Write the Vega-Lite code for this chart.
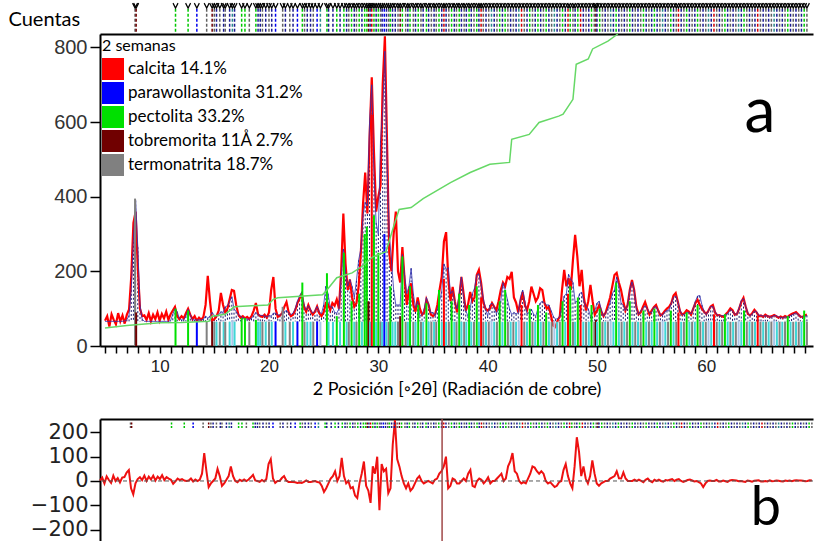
{
"$schema": "https://vega.github.io/schema/vega-lite/v6.json",
"padding": {"left": 8, "top": 0, "right": 0, "bottom": 0},
"background": "white",
"spacing": 18,
"config": {"view": {"stroke": null}, "axis": {"domainColor": "#000", "tickColor": "#000", "grid": false, "domainWidth": 2, "tickWidth": 1.5}},
"resolve": {"scale": {"color": "independent", "stroke": "independent"}},
"datasets": {
"prof": [
{"x":5.0,"o":68,"c":66,"d":2},{"x":5.2,"o":80,"c":66,"d":14},{"x":5.4,"o":52,"c":66,"d":-10},{"x":5.6,"o":85,"c":66,"d":19},{"x":5.8,"o":70,"c":66,"d":4},{"x":6.0,"o":58,"c":66,"d":-8},{"x":6.2,"o":88,"c":66,"d":22},{"x":6.4,"o":66,"c":66,"d":0},{"x":6.6,"o":82,"c":66,"d":12},{"x":6.8,"o":60,"c":67,"d":-6},
{"x":7.0,"o":84,"c":70,"d":14},{"x":7.2,"o":98,"c":82,"d":16},{"x":7.4,"o":185,"c":150,"d":35},{"x":7.6,"o":330,"c":290,"d":45},{"x":7.8,"o":360,"c":390,"d":-30},{"x":8.0,"o":210,"c":265,"d":-55},{"x":8.2,"o":100,"c":110,"d":-10},{"x":8.4,"o":80,"c":72,"d":8},{"x":8.6,"o":82,"c":66,"d":16},{"x":8.8,"o":70,"c":66,"d":4},
{"x":9.0,"o":88,"c":66,"d":22},{"x":9.2,"o":66,"c":66,"d":0},{"x":9.4,"o":84,"c":66,"d":18},{"x":9.6,"o":72,"c":66,"d":6},{"x":9.8,"o":90,"c":66,"d":22},{"x":10.0,"o":68,"c":66,"d":2},{"x":10.2,"o":86,"c":66,"d":18},{"x":10.4,"o":74,"c":66,"d":8},{"x":10.6,"o":92,"c":66,"d":24},{"x":10.8,"o":70,"c":66,"d":4},
{"x":11.0,"o":85,"c":68,"d":16},{"x":11.2,"o":95,"c":85,"d":10},{"x":11.4,"o":105,"c":100,"d":5},{"x":11.6,"o":80,"c":92,"d":-12},{"x":11.8,"o":72,"c":74,"d":-2},{"x":12.0,"o":80,"c":70,"d":10},{"x":12.2,"o":74,"c":70,"d":4},{"x":12.4,"o":88,"c":80,"d":8},{"x":12.6,"o":100,"c":98,"d":2},{"x":12.8,"o":84,"c":84,"d":0},
{"x":13.0,"o":72,"c":70,"d":2},{"x":13.2,"o":80,"c":70,"d":10},{"x":13.4,"o":68,"c":70,"d":-2},{"x":13.6,"o":76,"c":70,"d":6},{"x":13.8,"o":70,"c":70,"d":0},{"x":14.0,"o":78,"c":72,"d":6},{"x":14.2,"o":110,"c":80,"d":30},{"x":14.4,"o":188,"c":75,"d":115},{"x":14.6,"o":120,"c":80,"d":40},{"x":14.8,"o":68,"c":90,"d":-25},
{"x":15.0,"o":72,"c":82,"d":-10},{"x":15.2,"o":80,"c":80,"d":0},{"x":15.4,"o":95,"c":85,"d":10},{"x":15.6,"o":142,"c":92,"d":50},{"x":15.8,"o":110,"c":90,"d":20},{"x":16.0,"o":90,"c":105,"d":-20},{"x":16.2,"o":100,"c":108,"d":-10},{"x":16.4,"o":125,"c":120,"d":5},{"x":16.6,"o":150,"c":132,"d":20},{"x":16.8,"o":148,"c":100,"d":60},
{"x":17.0,"o":110,"c":92,"d":20},{"x":17.2,"o":84,"c":84,"d":0},{"x":17.4,"o":76,"c":80,"d":-5},{"x":17.6,"o":80,"c":76,"d":5},{"x":17.8,"o":74,"c":74,"d":0},{"x":18.0,"o":78,"c":72,"d":6},{"x":18.2,"o":72,"c":72,"d":0},{"x":18.4,"o":80,"c":74,"d":6},{"x":18.6,"o":95,"c":82,"d":15},{"x":18.8,"o":115,"c":90,"d":25},
{"x":19.0,"o":85,"c":84,"d":2},{"x":19.2,"o":80,"c":82,"d":0},{"x":19.4,"o":78,"c":82,"d":-4},{"x":19.6,"o":84,"c":80,"d":4},{"x":19.8,"o":76,"c":78,"d":-2},{"x":20.0,"o":90,"c":82,"d":8},{"x":20.2,"o":150,"c":80,"d":70},{"x":20.4,"o":185,"c":88,"d":90},{"x":20.6,"o":100,"c":88,"d":10},{"x":20.8,"o":78,"c":84,"d":-8},
{"x":21.0,"o":82,"c":82,"d":0},{"x":21.2,"o":88,"c":88,"d":0},{"x":21.4,"o":105,"c":92,"d":12},{"x":21.6,"o":118,"c":95,"d":20},{"x":21.8,"o":90,"c":88,"d":2},{"x":22.0,"o":80,"c":84,"d":-4},{"x":22.2,"o":84,"c":88,"d":-4},{"x":22.4,"o":96,"c":100,"d":-4},{"x":22.6,"o":115,"c":120,"d":-5},{"x":22.8,"o":128,"c":135,"d":-8},
{"x":23.0,"o":140,"c":145,"d":-6},{"x":23.2,"o":105,"c":112,"d":-8},{"x":23.4,"o":92,"c":96,"d":-4},{"x":23.6,"o":110,"c":108,"d":2},{"x":23.8,"o":95,"c":98,"d":-4},{"x":24.0,"o":84,"c":88,"d":-4},{"x":24.2,"o":92,"c":94,"d":-2},{"x":24.4,"o":106,"c":106,"d":0},{"x":24.6,"o":88,"c":92,"d":-4},{"x":24.8,"o":80,"c":86,"d":-6},
{"x":25.0,"o":90,"c":110,"d":-20},{"x":25.2,"o":115,"c":160,"d":-45},{"x":25.4,"o":112,"c":140,"d":-30},{"x":25.6,"o":96,"c":104,"d":-10},{"x":25.8,"o":115,"c":105,"d":10},{"x":26.0,"o":108,"c":90,"d":20},{"x":26.2,"o":125,"c":88,"d":40},{"x":26.4,"o":100,"c":100,"d":0},{"x":26.6,"o":200,"c":180,"d":20},{"x":26.8,"o":355,"c":260,"d":95},
{"x":27.0,"o":220,"c":200,"d":20},{"x":27.2,"o":150,"c":160,"d":-10},{"x":27.4,"o":178,"c":178,"d":0},{"x":27.6,"o":130,"c":160,"d":-30},{"x":27.8,"o":105,"c":130,"d":-25},{"x":28.0,"o":115,"c":175,"d":-60},{"x":28.2,"o":160,"c":230,"d":-70},{"x":28.4,"o":250,"c":260,"d":-10},{"x":28.6,"o":380,"c":350,"d":30},{"x":28.8,"o":465,"c":385,"d":80},
{"x":29.0,"o":355,"c":375,"d":-20},{"x":29.2,"o":560,"c":600,"d":-40},{"x":29.4,"o":720,"c":700,"d":-90},{"x":29.6,"o":520,"c":460,"d":60},{"x":29.8,"o":360,"c":330,"d":30},{"x":30.0,"o":400,"c":300,"d":100},{"x":30.2,"o":430,"c":550,"d":-120},{"x":30.4,"o":700,"c":630,"d":70},{"x":30.6,"o":830,"c":790,"d":40},{"x":30.8,"o":540,"c":490,"d":50},
{"x":31.0,"o":250,"c":300,"d":-50},{"x":31.2,"o":200,"c":230,"d":-30},{"x":31.4,"o":300,"c":150,"d":150},{"x":31.6,"o":360,"c":110,"d":250},{"x":31.8,"o":200,"c":110,"d":90},{"x":32.0,"o":170,"c":110,"d":60},{"x":32.2,"o":265,"c":245,"d":20},{"x":32.4,"o":180,"c":190,"d":-10},{"x":32.6,"o":110,"c":140,"d":-30},{"x":32.8,"o":150,"c":160,"d":-10},
{"x":33.0,"o":168,"c":208,"d":-40},{"x":33.2,"o":110,"c":140,"d":-30},{"x":33.4,"o":92,"c":102,"d":-10},{"x":33.6,"o":130,"c":120,"d":10},{"x":33.8,"o":100,"c":80,"d":20},{"x":34.0,"o":84,"c":84,"d":0},{"x":34.2,"o":90,"c":100,"d":-10},{"x":34.4,"o":125,"c":130,"d":-5},{"x":34.6,"o":110,"c":110,"d":0},{"x":34.8,"o":84,"c":89,"d":-5},
{"x":35.0,"o":80,"c":90,"d":-10},{"x":35.2,"o":86,"c":81,"d":5},{"x":35.4,"o":110,"c":100,"d":10},{"x":35.6,"o":150,"c":120,"d":30},{"x":35.8,"o":186,"c":146,"d":40},{"x":36.0,"o":280,"c":220,"d":60},{"x":36.2,"o":305,"c":205,"d":100},{"x":36.4,"o":180,"c":210,"d":-30},{"x":36.6,"o":120,"c":140,"d":-20},{"x":36.8,"o":158,"c":148,"d":10},
{"x":37.0,"o":120,"c":115,"d":5},{"x":37.2,"o":90,"c":100,"d":-10},{"x":37.4,"o":130,"c":140,"d":-10},{"x":37.6,"o":185,"c":185,"d":0},{"x":37.8,"o":140,"c":130,"d":10},{"x":38.0,"o":95,"c":95,"d":0},{"x":38.2,"o":110,"c":80,"d":30},{"x":38.4,"o":145,"c":100,"d":45},{"x":38.6,"o":120,"c":140,"d":-20},{"x":38.8,"o":130,"c":155,"d":-25},
{"x":39.0,"o":190,"c":190,"d":0},{"x":39.2,"o":204,"c":194,"d":10},{"x":39.4,"o":170,"c":165,"d":5},{"x":39.6,"o":118,"c":128,"d":-10},{"x":39.8,"o":100,"c":100,"d":0},{"x":40.0,"o":95,"c":80,"d":15},{"x":40.2,"o":100,"c":110,"d":-10},{"x":40.4,"o":115,"c":115,"d":0},{"x":40.6,"o":105,"c":105,"d":0},{"x":40.8,"o":96,"c":86,"d":10},
{"x":41.0,"o":120,"c":100,"d":20},{"x":41.2,"o":150,"c":120,"d":30},{"x":41.4,"o":170,"c":170,"d":0},{"x":41.6,"o":160,"c":150,"d":10},{"x":41.8,"o":185,"c":125,"d":60},{"x":42.0,"o":180,"c":100,"d":80},{"x":42.2,"o":199,"c":84,"d":115},{"x":42.4,"o":130,"c":90,"d":40},{"x":42.6,"o":116,"c":86,"d":30},{"x":42.8,"o":90,"c":90,"d":0},
{"x":43.0,"o":120,"c":130,"d":-10},{"x":43.2,"o":145,"c":150,"d":-5},{"x":43.4,"o":110,"c":120,"d":-10},{"x":43.6,"o":96,"c":86,"d":10},{"x":43.8,"o":120,"c":90,"d":30},{"x":44.0,"o":159,"c":99,"d":60},{"x":44.2,"o":140,"c":85,"d":55},{"x":44.4,"o":120,"c":80,"d":40},{"x":44.6,"o":130,"c":100,"d":30},{"x":44.8,"o":155,"c":115,"d":40},
{"x":45.0,"o":150,"c":120,"d":30},{"x":45.2,"o":115,"c":115,"d":0},{"x":45.4,"o":100,"c":110,"d":-10},{"x":45.6,"o":105,"c":110,"d":-5},{"x":45.8,"o":80,"c":95,"d":-15},{"x":46.0,"o":55,"c":80,"d":-25},{"x":46.2,"o":51,"c":72,"d":-20},{"x":46.4,"o":68,"c":73,"d":-5},{"x":46.6,"o":80,"c":80,"d":0},{"x":46.8,"o":150,"c":105,"d":45},
{"x":47.0,"o":204,"c":134,"d":70},{"x":47.2,"o":160,"c":140,"d":20},{"x":47.4,"o":182,"c":192,"d":-10},{"x":47.6,"o":150,"c":180,"d":-30},{"x":47.8,"o":230,"c":170,"d":60},{"x":48.0,"o":298,"c":118,"d":180},{"x":48.2,"o":240,"c":120,"d":120},{"x":48.4,"o":160,"c":140,"d":20},{"x":48.6,"o":204,"c":144,"d":60},{"x":48.8,"o":130,"c":120,"d":10},
{"x":49.0,"o":95,"c":105,"d":-10},{"x":49.2,"o":120,"c":100,"d":20},{"x":49.4,"o":164,"c":79,"d":85},{"x":49.6,"o":120,"c":90,"d":30},{"x":49.8,"o":84,"c":94,"d":-10},{"x":50.0,"o":95,"c":115,"d":-20},{"x":50.2,"o":110,"c":120,"d":-10},{"x":50.4,"o":92,"c":97,"d":-5},{"x":50.6,"o":80,"c":80,"d":0},{"x":50.8,"o":90,"c":90,"d":0},
{"x":51.0,"o":110,"c":100,"d":10},{"x":51.2,"o":130,"c":115,"d":15},{"x":51.4,"o":160,"c":140,"d":20},{"x":51.6,"o":190,"c":150,"d":40},{"x":51.8,"o":196,"c":185,"d":11},{"x":52.0,"o":170,"c":160,"d":10},{"x":52.2,"o":150,"c":115,"d":35},{"x":52.4,"o":120,"c":110,"d":10},{"x":52.6,"o":95,"c":95,"d":0},{"x":52.8,"o":110,"c":110,"d":0},
{"x":53.0,"o":150,"c":150,"d":0},{"x":53.2,"o":177,"c":172,"d":5},{"x":53.4,"o":150,"c":150,"d":0},{"x":53.6,"o":105,"c":100,"d":5},{"x":53.8,"o":85,"c":85,"d":0},{"x":54.0,"o":90,"c":95,"d":-5},{"x":54.2,"o":105,"c":100,"d":5},{"x":54.4,"o":118,"c":108,"d":10},{"x":54.6,"o":100,"c":100,"d":0},{"x":54.8,"o":84,"c":89,"d":-5},
{"x":55.0,"o":95,"c":90,"d":5},{"x":55.2,"o":104,"c":104,"d":0},{"x":55.4,"o":110,"c":105,"d":5},{"x":55.6,"o":95,"c":95,"d":0},{"x":55.8,"o":82,"c":85,"d":-3},{"x":56.0,"o":86,"c":82,"d":4},{"x":56.2,"o":94,"c":92,"d":2},{"x":56.4,"o":100,"c":95,"d":5},{"x":56.6,"o":105,"c":97,"d":8},{"x":56.8,"o":115,"c":115,"d":0},
{"x":57.0,"o":135,"c":130,"d":5},{"x":57.2,"o":142,"c":134,"d":8},{"x":57.4,"o":118,"c":118,"d":0},{"x":57.6,"o":92,"c":96,"d":-4},{"x":57.8,"o":84,"c":84,"d":0},{"x":58.0,"o":88,"c":84,"d":4},{"x":58.2,"o":96,"c":90,"d":6},{"x":58.4,"o":92,"c":90,"d":2},{"x":58.6,"o":84,"c":86,"d":-2},{"x":58.8,"o":100,"c":100,"d":0},
{"x":59.0,"o":115,"c":120,"d":-5},{"x":59.2,"o":124,"c":134,"d":-10},{"x":59.4,"o":110,"c":135,"d":-25},{"x":59.6,"o":100,"c":110,"d":-10},{"x":59.8,"o":92,"c":92,"d":0},{"x":60.0,"o":86,"c":84,"d":2},{"x":60.2,"o":95,"c":95,"d":0},{"x":60.4,"o":106,"c":106,"d":0},{"x":60.6,"o":110,"c":106,"d":4},{"x":60.8,"o":90,"c":92,"d":-2},
{"x":61.0,"o":82,"c":84,"d":-2},{"x":61.2,"o":83,"c":81,"d":2},{"x":61.4,"o":80,"c":81,"d":-1},{"x":61.6,"o":78,"c":82,"d":-4},{"x":61.8,"o":86,"c":84,"d":2},{"x":62.0,"o":92,"c":88,"d":4},{"x":62.2,"o":101,"c":98,"d":3},{"x":62.4,"o":96,"c":94,"d":2},{"x":62.6,"o":84,"c":85,"d":-1},{"x":62.8,"o":86,"c":86,"d":0},
{"x":63.0,"o":100,"c":102,"d":-2},{"x":63.2,"o":118,"c":122,"d":-4},{"x":63.4,"o":129,"c":127,"d":2},{"x":63.6,"o":106,"c":106,"d":0},{"x":63.8,"o":86,"c":89,"d":-3},{"x":64.0,"o":82,"c":81,"d":1},{"x":64.2,"o":88,"c":86,"d":2},{"x":64.4,"o":97,"c":94,"d":3},{"x":64.6,"o":90,"c":92,"d":-2},{"x":64.8,"o":80,"c":82,"d":-2},
{"x":65.0,"o":82,"c":82,"d":0},{"x":65.2,"o":78,"c":80,"d":-2},{"x":65.4,"o":84,"c":81,"d":3},{"x":65.6,"o":80,"c":81,"d":-1},{"x":65.8,"o":78,"c":78,"d":0},{"x":66.0,"o":80,"c":78,"d":2},{"x":66.2,"o":83,"c":82,"d":1},{"x":66.4,"o":80,"c":81,"d":-1},{"x":66.6,"o":76,"c":78,"d":-2},{"x":66.8,"o":79,"c":77,"d":2},
{"x":67.0,"o":76,"c":76,"d":0},{"x":67.2,"o":80,"c":78,"d":2},{"x":67.4,"o":77,"c":78,"d":-1},{"x":67.6,"o":82,"c":80,"d":2},{"x":67.8,"o":86,"c":83,"d":3},{"x":68.0,"o":88,"c":86,"d":2},{"x":68.2,"o":91,"c":89,"d":2},{"x":68.4,"o":85,"c":84,"d":1},{"x":68.6,"o":79,"c":80,"d":-1},{"x":68.8,"o":78,"c":78,"d":0},
{"x":69.0,"o":82,"c":79,"d":3},{"x":69.2,"o":84,"c":82,"d":2}
],
"st": [
{"x":7.75,"h":395,"f":"te"},{"x":7.85,"h":90,"f":"to"},{"x":11.45,"h":100,"f":"pe"},{"x":12.6,"h":95,"f":"pe"},{"x":13.4,"h":66,"f":"pw"},{"x":14.3,"h":65,"f":"te"},{"x":14.8,"h":66,"f":"to"},{"x":15.0,"h":65,"f":"te"},{"x":15.2,"h":65,"f":"cy"},{"x":15.5,"h":65,"f":"te"},
{"x":15.85,"h":65,"f":"cy"},{"x":16.0,"h":65,"f":"te"},{"x":16.4,"h":65,"f":"cy"},{"x":16.65,"h":70,"f":"lb"},{"x":16.85,"h":65,"f":"cy"},{"x":17.5,"h":75,"f":"pe"},{"x":17.8,"h":75,"f":"pe"},{"x":18.2,"h":65,"f":"te"},{"x":18.8,"h":70,"f":"pe"},{"x":19.0,"h":65,"f":"cy"},
{"x":19.2,"h":65,"f":"cy"},{"x":19.4,"h":65,"f":"te"},{"x":19.7,"h":65,"f":"cy"},{"x":20.0,"h":65,"f":"te"},{"x":20.25,"h":65,"f":"cy"},{"x":20.6,"h":66,"f":"pw"},{"x":21.25,"h":105,"f":"te"},{"x":21.5,"h":65,"f":"cy"},{"x":21.9,"h":65,"f":"te"},{"x":22.2,"h":65,"f":"cy"},
{"x":22.6,"h":66,"f":"pw"},{"x":23.05,"h":170,"f":"pe"},{"x":23.25,"h":65,"f":"te"},{"x":23.5,"h":65,"f":"cy"},{"x":23.8,"h":65,"f":"cy"},{"x":24.05,"h":65,"f":"te"},{"x":24.4,"h":66,"f":"pw"},{"x":24.7,"h":65,"f":"lb"},{"x":25.3,"h":195,"f":"pe"},{"x":25.45,"h":65,"f":"cy"},
{"x":25.85,"h":65,"f":"cy"},{"x":26.2,"h":80,"f":"pe"},{"x":26.5,"h":65,"f":"cy"},{"x":26.85,"h":250,"f":"pe"},{"x":27.1,"h":65,"f":"cy"},{"x":27.3,"h":65,"f":"te"},{"x":27.55,"h":120,"f":"pe"},{"x":27.8,"h":65,"f":"cy"},{"x":28.0,"h":65,"f":"te"},{"x":28.25,"h":140,"f":"pe"},
{"x":28.5,"h":65,"f":"cy"},{"x":28.75,"h":300,"f":"pe"},{"x":28.95,"h":320,"f":"pe"},{"x":29.1,"h":120,"f":"to"},{"x":29.25,"h":65,"f":"cy"},{"x":29.4,"h":620,"f":"ca"},{"x":29.6,"h":350,"f":"pe"},{"x":29.8,"h":65,"f":"cy"},{"x":30.0,"h":250,"f":"pe"},{"x":30.2,"h":65,"f":"te"},
{"x":30.35,"h":65,"f":"cy"},{"x":30.55,"h":300,"f":"pw"},{"x":30.75,"h":65,"f":"cy"},{"x":30.95,"h":65,"f":"te"},{"x":31.1,"h":160,"f":"pe"},{"x":31.3,"h":65,"f":"cy"},{"x":31.55,"h":65,"f":"cy"},{"x":31.8,"h":65,"f":"te"},{"x":32.0,"h":80,"f":"to"},{"x":32.2,"h":240,"f":"pe"},
{"x":32.5,"h":65,"f":"te"},{"x":32.7,"h":65,"f":"cy"},{"x":32.9,"h":160,"f":"pe"},{"x":33.2,"h":65,"f":"te"},{"x":33.4,"h":65,"f":"cy"},{"x":33.65,"h":110,"f":"pe"},{"x":33.9,"h":65,"f":"te"},{"x":34.1,"h":65,"f":"cy"},{"x":34.4,"h":115,"f":"pe"},{"x":34.6,"h":65,"f":"cy"},
{"x":34.85,"h":65,"f":"te"},{"x":35.1,"h":65,"f":"cy"},{"x":35.3,"h":65,"f":"te"},{"x":35.55,"h":150,"f":"pe"},{"x":35.8,"h":65,"f":"cy"},{"x":36.0,"h":180,"f":"ca"},{"x":36.2,"h":65,"f":"cy"},{"x":36.45,"h":65,"f":"te"},{"x":36.7,"h":120,"f":"pe"},{"x":36.95,"h":65,"f":"cy"},
{"x":37.15,"h":65,"f":"te"},{"x":37.4,"h":140,"f":"pe"},{"x":37.6,"h":65,"f":"cy"},{"x":37.85,"h":65,"f":"te"},{"x":38.05,"h":65,"f":"cy"},{"x":38.3,"h":110,"f":"pe"},{"x":38.5,"h":65,"f":"cy"},{"x":38.75,"h":65,"f":"te"},{"x":39.0,"h":160,"f":"pe"},{"x":39.2,"h":65,"f":"cy"},
{"x":39.4,"h":130,"f":"ca"},{"x":39.6,"h":65,"f":"te"},{"x":39.85,"h":65,"f":"cy"},{"x":40.1,"h":65,"f":"te"},{"x":40.35,"h":68,"f":"lb"},{"x":40.6,"h":65,"f":"cy"},{"x":40.85,"h":65,"f":"te"},{"x":41.1,"h":120,"f":"pe"},{"x":41.35,"h":65,"f":"cy"},{"x":41.6,"h":150,"f":"pe"},
{"x":41.85,"h":65,"f":"te"},{"x":42.1,"h":65,"f":"cy"},{"x":42.35,"h":65,"f":"te"},{"x":42.6,"h":65,"f":"cy"},{"x":42.85,"h":68,"f":"lb"},{"x":43.1,"h":110,"f":"ca"},{"x":43.35,"h":65,"f":"te"},{"x":43.6,"h":65,"f":"cy"},{"x":43.85,"h":100,"f":"pe"},{"x":44.1,"h":65,"f":"te"},
{"x":44.35,"h":65,"f":"cy"},{"x":44.6,"h":110,"f":"pe"},{"x":44.85,"h":65,"f":"cy"},{"x":45.1,"h":65,"f":"te"},{"x":45.35,"h":90,"f":"pe"},{"x":45.6,"h":65,"f":"cy"},{"x":45.85,"h":65,"f":"te"},{"x":46.1,"h":68,"f":"lb"},{"x":46.35,"h":65,"f":"cy"},{"x":46.6,"h":65,"f":"te"},
{"x":46.85,"h":120,"f":"pe"},{"x":47.1,"h":65,"f":"cy"},{"x":47.35,"h":140,"f":"ca"},{"x":47.55,"h":160,"f":"pe"},{"x":47.8,"h":65,"f":"te"},{"x":48.0,"h":65,"f":"cy"},{"x":48.25,"h":130,"f":"pe"},{"x":48.5,"h":110,"f":"ca"},{"x":48.75,"h":65,"f":"cy"},{"x":49.0,"h":65,"f":"te"},
{"x":49.25,"h":65,"f":"cy"},{"x":49.5,"h":110,"f":"pe"},{"x":49.75,"h":65,"f":"te"},{"x":49.9,"h":70,"f":"to"},{"x":50.0,"h":65,"f":"cy"},{"x":50.25,"h":100,"f":"pe"},{"x":50.5,"h":65,"f":"te"},{"x":50.75,"h":65,"f":"cy"},{"x":51.0,"h":65,"f":"te"},{"x":51.25,"h":68,"f":"lb"},
{"x":51.5,"h":65,"f":"cy"},{"x":51.75,"h":170,"f":"pe"},{"x":52.0,"h":65,"f":"cy"},{"x":52.25,"h":65,"f":"te"},{"x":52.5,"h":65,"f":"cy"},{"x":52.75,"h":65,"f":"te"},{"x":53.0,"h":120,"f":"pe"},{"x":53.25,"h":65,"f":"cy"},{"x":53.5,"h":65,"f":"te"},{"x":53.75,"h":65,"f":"cy"},
{"x":54.0,"h":65,"f":"te"},{"x":54.25,"h":95,"f":"pe"},{"x":54.5,"h":65,"f":"cy"},{"x":54.75,"h":65,"f":"te"},{"x":55.0,"h":65,"f":"cy"},{"x":55.25,"h":100,"f":"pe"},{"x":55.5,"h":65,"f":"cy"},{"x":55.75,"h":65,"f":"te"},{"x":56.0,"h":68,"f":"lb"},{"x":56.25,"h":65,"f":"cy"},
{"x":56.5,"h":65,"f":"te"},{"x":56.75,"h":95,"f":"pe"},{"x":57.0,"h":65,"f":"cy"},{"x":57.25,"h":65,"f":"te"},{"x":57.45,"h":90,"f":"ca"},{"x":57.7,"h":65,"f":"cy"},{"x":57.95,"h":65,"f":"te"},{"x":58.2,"h":90,"f":"pe"},{"x":58.45,"h":65,"f":"cy"},{"x":58.7,"h":65,"f":"te"},
{"x":58.95,"h":65,"f":"cy"},{"x":59.2,"h":110,"f":"pe"},{"x":59.45,"h":65,"f":"te"},{"x":59.7,"h":65,"f":"cy"},{"x":59.95,"h":65,"f":"te"},{"x":60.2,"h":68,"f":"lb"},{"x":60.45,"h":65,"f":"cy"},{"x":60.7,"h":85,"f":"ca"},{"x":60.95,"h":65,"f":"te"},{"x":61.2,"h":65,"f":"cy"},
{"x":61.45,"h":65,"f":"te"},{"x":61.7,"h":85,"f":"pe"},{"x":61.95,"h":65,"f":"cy"},{"x":62.2,"h":65,"f":"te"},{"x":62.45,"h":65,"f":"cy"},{"x":62.7,"h":65,"f":"te"},{"x":62.95,"h":68,"f":"lb"},{"x":63.2,"h":65,"f":"cy"},{"x":63.45,"h":95,"f":"pe"},{"x":63.7,"h":65,"f":"te"},
{"x":63.95,"h":65,"f":"cy"},{"x":64.2,"h":65,"f":"te"},{"x":64.45,"h":65,"f":"cy"},{"x":64.7,"h":80,"f":"ca"},{"x":64.95,"h":65,"f":"te"},{"x":65.2,"h":65,"f":"cy"},{"x":65.45,"h":65,"f":"te"},{"x":65.7,"h":65,"f":"cy"},{"x":65.95,"h":65,"f":"te"},{"x":66.2,"h":68,"f":"lb"},
{"x":66.45,"h":65,"f":"cy"},{"x":66.7,"h":65,"f":"te"},{"x":66.95,"h":65,"f":"cy"},{"x":67.2,"h":65,"f":"te"},{"x":67.45,"h":80,"f":"pe"},{"x":67.7,"h":65,"f":"cy"},{"x":67.95,"h":65,"f":"te"},{"x":68.2,"h":65,"f":"cy"},{"x":68.45,"h":65,"f":"te"},{"x":68.7,"h":65,"f":"cy"},
{"x":68.95,"h":95,"f":"pe"},{"x":69.2,"h":65,"f":"te"}
],
"cum": [
{"x":5.0,"v":48},{"x":7.0,"v":55},{"x":10.0,"v":62},{"x":12.0,"v":63},{"x":14.5,"v":66},{"x":14.8,"v":80},{"x":16.0,"v":85},{"x":16.8,"v":105},{"x":19.9,"v":110},{"x":20.4,"v":125},{"x":20.8,"v":129},{"x":24.9,"v":137},{"x":25.3,"v":150},{"x":26.2,"v":183},{"x":27.6,"v":196},{"x":28.5,"v":213},{"x":29.5,"v":239},{"x":30.7,"v":253},{"x":31.4,"v":320},{"x":31.9,"v":366},{"x":33.0,"v":371},{"x":34.1,"v":395},{"x":36.6,"v":438},{"x":38.4,"v":465},{"x":40.2,"v":487},{"x":42.0,"v":492},{"x":42.2,"v":554},{"x":43.8,"v":567},{"x":44.7,"v":599},{"x":46.5,"v":616},{"x":46.9,"v":621},{"x":47.8,"v":661},{"x":48.1,"v":755},{"x":49.2,"v":769},{"x":49.6,"v":796},{"x":51.0,"v":817},{"x":51.9,"v":836}
]
},
"vconcat": [
{
"width": 713, "height": 312,
"resolve": {"axis": {"x": "independent", "y": "independent"}},
"layer": [
{"data": {"name": "prof"},
 "mark": {"type": "rule", "color": "#1c1c6e", "strokeWidth": 1, "strokeDash": [2, 2]},
 "encoding": {
  "x": {"field": "x", "type": "quantitative", "scale": {"domain": [5, 69.3], "nice": false, "zero": false},
        "axis": {"orient": "bottom", "values": [5,6,7,8,9,10,11,12,13,14,15,16,17,18,19,20,21,22,23,24,25,26,27,28,29,30,31,32,33,34,35,36,37,38,39,40,41,42,43,44,45,46,47,48,49,50,51,52,53,54,55,56,57,58,59,60,61,62,63,64,65,66,67,68,69],
                 "labelExpr": "datum.value % 10 === 0 ? datum.label : ''", "labelOverlap": false, "labelFlush": false,
                 "tickSize": 7, "labelPadding": 5, "labelFont": "Liberation Sans", "labelFontSize": 17, "labelColor": "#222",
                 "title": "2 Posición [◦2θ] (Radiación de cobre)", "titleFont": "Lato", "titleFontSize": 18, "titleFontWeight": "normal", "titleColor": "#000", "titlePadding": 6}},
  "y": {"field": "c", "type": "quantitative", "scale": {"domain": [0, 836], "nice": false, "zero": false},
        "axis": {"values": [0, 200, 400, 600, 800], "tickSize": 10, "labelPadding": 3, "labelFont": "Liberation Sans", "labelFontSize": 20, "labelColor": "#333",
                 "title": "Cuentas", "titleAngle": 0, "titleAlign": "left", "titleBaseline": "middle", "titleX": -92, "titleY": -15,
                 "titleFont": "Lato", "titleFontSize": 20, "titleFontWeight": "normal", "titleColor": "#000"}},
  "y2": {"datum": 66}
 }},
{"data": {"name": "prof"},
 "mark": {"type": "line", "color": "#ff0000", "strokeWidth": 2.2},
 "encoding": {
  "x": {"field": "x", "type": "quantitative", "axis": {"orient": "top", "labels": false, "ticks": false, "title": null, "domain": true}},
  "y": {"field": "o", "type": "quantitative", "axis": null}
 }},
{"data": {"name": "prof"},
 "mark": {"type": "line", "color": "#3030b0", "strokeWidth": 1, "opacity": 0.8},
 "encoding": {
  "x": {"field": "x", "type": "quantitative", "axis": null},
  "y": {"field": "c", "type": "quantitative", "axis": null}
 }},
{"data": {"name": "st"},
 "mark": {"type": "bar", "width": 2},
 "encoding": {
  "x": {"field": "x", "type": "quantitative", "axis": null},
  "y": {"field": "h", "type": "quantitative", "axis": null},
  "y2": {"datum": 0},
  "color": {"field": "f", "type": "nominal",
   "scale": {"domain": ["ca", "pw", "pe", "to", "te", "cy", "lb"], "range": ["#ff0000", "#0000ff", "#00e000", "#700000", "#808080", "#3fd6d6", "#a9c6e8"]},
   "legend": {"values": ["ca", "pw", "pe", "to", "te"], "orient": "none", "legendX": 2, "legendY": 4, "padding": 0,
     "title": "2 semanas", "titleFont": "Lato", "titleFontSize": 16, "titleFontWeight": "normal", "titleColor": "#000", "titlePadding": 4,
     "labelFont": "Lato", "labelFontSize": 17, "labelColor": "#000", "labelOffset": 4, "labelLimit": 300,
     "labelExpr": "{'ca': 'calcita 14.1%', 'pw': 'parawollastonita 31.2%', 'pe': 'pectolita 33.2%', 'to': 'tobremorita 11Å  2.7%', 'te': 'termonatrita  18.7%'}[datum.value]",
     "symbolType": "square", "symbolSize": 484, "symbolStrokeWidth": 0, "symbolOpacity": 1, "rowPadding": 2}}
 }},
{"data": {"name": "cum"},
 "mark": {"type": "line", "color": "#66d866", "strokeWidth": 1.5},
 "encoding": {
  "x": {"field": "x", "type": "quantitative", "axis": null},
  "y": {"field": "v", "type": "quantitative", "axis": null}
 }},
{"data": {"name": "st"},
 "mark": {"type": "rule", "strokeWidth": 1.5, "strokeDash": [3, 2]},
 "encoding": {
  "x": {"field": "x", "type": "quantitative", "axis": null},
  "y": {"datum": 842, "type": "quantitative", "axis": null},
  "y2": {"datum": 904},
  "stroke": {"field": "f", "type": "nominal", "legend": null,
   "scale": {"domain": ["ca", "pw", "pe", "to", "te", "cy", "lb"], "range": ["#d00000", "#0000ee", "#00c800", "#700000", "#606060", "#1a1a90", "#2a8a8a"]}}
 }},
{"data": {"name": "st"},
 "mark": {"type": "point", "shape": "M-1,-1L0,1L1,-1", "filled": false, "color": "#000", "size": 25, "strokeWidth": 1.2, "opacity": 1},
 "encoding": {
  "x": {"field": "x", "type": "quantitative", "axis": null},
  "y": {"datum": 912, "type": "quantitative", "axis": null}
 }},
{"data": {"values": [{"t": "a"}]},
 "mark": {"type": "text", "font": "Lato", "fontSize": 62, "align": "center", "baseline": "alphabetic", "color": "#000"},
 "encoding": {
  "x": {"datum": 64.9, "type": "quantitative", "axis": null},
  "y": {"datum": 573, "type": "quantitative", "axis": null},
  "text": {"field": "t", "type": "nominal"}
 }}
]
},
{
"width": 713, "height": 122,
"resolve": {"axis": {"x": "independent", "y": "independent"}},
"layer": [
{"data": {"name": "prof"},
 "mark": {"type": "line", "color": "#ee1111", "strokeWidth": 2},
 "encoding": {
  "x": {"field": "x", "type": "quantitative", "scale": {"domain": [5, 69.3], "nice": false, "zero": false},
        "axis": {"orient": "top", "labels": false, "ticks": false, "title": null, "domain": true}},
  "y": {"field": "d", "type": "quantitative", "scale": {"domain": [-247, 255], "nice": false, "zero": false},
        "axis": {"values": [-200, -100, 0, 100, 200], "tickSize": 10, "labelPadding": 2, "labelFont": "DejaVu Sans", "labelFontSize": 21, "labelColor": "#222", "title": null}}
 }},
{"data": {"values": [{"t": "z"}]},
 "mark": {"type": "rule", "color": "#555", "strokeWidth": 1, "strokeDash": [4, 3]},
 "encoding": {
  "y": {"datum": 0, "type": "quantitative", "axis": null}
 }},
{"data": {"name": "st"},
 "mark": {"type": "rule", "strokeWidth": 1.5, "strokeDash": [2, 1.5]},
 "encoding": {
  "x": {"field": "x", "type": "quantitative", "axis": null},
  "y": {"datum": 218, "type": "quantitative", "axis": null},
  "y2": {"datum": 246},
  "stroke": {"field": "f", "type": "nominal", "legend": null,
   "scale": {"domain": ["ca", "pw", "pe", "to", "te", "cy", "lb"], "range": ["#d00000", "#0000ee", "#00c800", "#700000", "#606060", "#1a1a90", "#2a8a8a"]}}
 }},
{"data": {"values": [{"t": "v"}]},
 "mark": {"type": "rule", "color": "#a04848", "strokeWidth": 1.5},
 "encoding": {
  "x": {"datum": 35.85, "type": "quantitative", "axis": null}
 }},
{"data": {"values": [{"t": "b"}]},
 "mark": {"type": "text", "font": "Lato", "fontSize": 54, "align": "center", "baseline": "alphabetic", "color": "#000"},
 "encoding": {
  "x": {"datum": 65.05, "type": "quantitative", "axis": null},
  "y": {"datum": -180, "type": "quantitative", "axis": null},
  "text": {"field": "t", "type": "nominal"}
 }}
]
}
]
}
